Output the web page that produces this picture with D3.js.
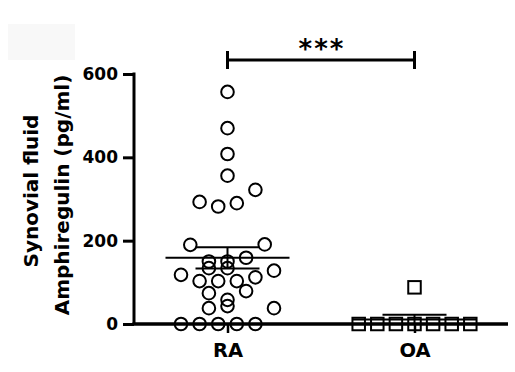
<!DOCTYPE html>
<html>
<head>
<meta charset="utf-8">
<script src="https://cdn.jsdelivr.net/npm/d3@7"></script>
<style>
  html, body { margin: 0; padding: 0; background: #fff; }
  svg text { font-family: "DejaVu Sans", sans-serif; font-weight: bold; }
</style>
</head>
<body>
<svg id="chart" width="515" height="372"></svg>
<script>
// Groups shown on the x axis
const groups = ["RA", "OA"];

// Synovial fluid amphiregulin, pg/ml, one value per patient
const raValues = [557, 470, 408, 356, 322, 293, 282, 290, 190, 191, 159, 150, 150, 134, 134,
                  118, 103, 103, 103, 112, 128, 74, 79, 58, 43, 38, 38, 0, 0, 0, 0, 0];
// Horizontal spread slot of each RA point (scatter column, in half-steps)
const raSlots  = [0, 0, 0, 0, 3, -3, -1, 1, -4, 4, 2, -2, 0, -2, 0,
                  -5, -3, -1, 1, 3, 5, -2, 2, 0, 0, -2, 5, -5, -3, -1, 1, 3];

const oaValues = [0, 0, 0, 88, 0, 0, 0, 0];
const oaSlots  = [-6, -4, -2, 0, 0, 2, 4, 6];

const yTicks = [0, 200, 400, 600];
const yTitle = ["Synovial fluid", "Amphiregulin (pg/ml)"];
const sigLabel = "***";

const FONT = '"DejaVu Sans", sans-serif';
const svg = d3.select("#chart");

// faint backdrop patch in the upper-left corner
svg.append("rect").attr("x", 8).attr("y", 24).attr("width", 67).attr("height", 36)
  .attr("fill", "#f8f8f8");

const x = d3.scalePoint().domain(groups).range([134, 508]).padding(0.5);
const y = d3.scaleLinear().domain([0, 600]).range([324, 74]);
const spread = d3.scaleLinear().domain([-1, 1]).range([-9.3, 9.3]);

// Y axis
const yAxis = svg.append("g").attr("transform", `translate(134,0)`)
  .call(d3.axisLeft(y).tickValues(yTicks).tickSize(11).tickSizeOuter(0).tickPadding(5));
yAxis.attr("font-family", FONT).attr("font-size", 17);
yAxis.select(".domain").attr("stroke", "#000").attr("stroke-width", 3)
  .attr("d", `M0,${y(0)}V${y(600) - 1.5}`);
yAxis.selectAll(".tick line").attr("stroke", "#000").attr("stroke-width", 3);
yAxis.selectAll(".tick text").attr("fill", "#000");

// X axis
const xAxis = svg.append("g").attr("transform", `translate(0,${y(0)})`)
  .call(d3.axisBottom(x).tickSize(9).tickSizeOuter(0).tickPadding(10));
xAxis.attr("font-family", FONT).attr("font-size", 19.5);
xAxis.select(".domain").attr("stroke", "#000").attr("stroke-width", 3.5)
  .attr("d", `M132.5,0H508`);
xAxis.selectAll(".tick line").attr("stroke", "#000").attr("stroke-width", 2.5);
xAxis.selectAll(".tick text").attr("fill", "#000");

// Y axis title, two lines
svg.append("g").selectAll("text").data(yTitle).join("text")
  .attr("transform", (d, i) => `translate(${[37.5, 68.5][i]},${[191, 195][i]}) rotate(-90)`)
  .attr("text-anchor", "middle")
  .attr("font-size", 20)
  .attr("fill", "#000")
  .text(d => d);

// RA points: open circles
svg.append("g").selectAll("circle").data(raValues).join("circle")
  .attr("cx", (d, i) => x("RA") + spread(raSlots[i]))
  .attr("cy", d => y(d))
  .attr("r", 6.3)
  .attr("fill", "none")
  .attr("stroke", "#000")
  .attr("stroke-width", 2);

// OA points: open squares
const side = 12.5;
svg.append("g").selectAll("rect").data(oaValues).join("rect")
  .attr("x", (d, i) => x("OA") + spread(oaSlots[i]) - side / 2)
  .attr("y", d => y(d) - side / 2)
  .attr("width", side).attr("height", side)
  .attr("fill", "none")
  .attr("stroke", "#000")
  .attr("stroke-width", 2);

// Mean and standard error bars
function summary(vals) {
  const m = d3.mean(vals);
  const sem = d3.deviation(vals) / Math.sqrt(vals.length);
  return { m, sem };
}
const stats = [["RA", summary(raValues)], ["OA", summary(oaValues)]];
const eb = svg.append("g").attr("stroke", "#000").attr("stroke-width", 2);
stats.forEach(([g, s]) => {
  const cx = x(g);
  const lo = Math.max(0, s.m - s.sem), hi = s.m + s.sem;
  eb.append("line").attr("x1", cx - 62).attr("x2", cx + 62).attr("y1", y(s.m)).attr("y2", y(s.m));
  eb.append("line").attr("x1", cx - 32).attr("x2", cx + 32).attr("y1", y(hi)).attr("y2", y(hi));
  eb.append("line").attr("x1", cx - 32).attr("x2", cx + 32).attr("y1", y(lo)).attr("y2", y(lo));
  eb.append("line").attr("x1", cx).attr("x2", cx).attr("y1", y(hi)).attr("y2", y(lo));
});

// Significance bracket
const bracket = svg.append("g").attr("stroke", "#000").attr("stroke-width", 3);
const by = 60;
bracket.append("line").attr("x1", x("RA")).attr("x2", x("OA")).attr("y1", by).attr("y2", by);
bracket.append("line").attr("x1", x("RA")).attr("x2", x("RA")).attr("y1", by - 9).attr("y2", by + 9);
bracket.append("line").attr("x1", x("OA")).attr("x2", x("OA")).attr("y1", by - 9).attr("y2", by + 9);
svg.append("text")
  .attr("x", (x("RA") + x("OA")) / 2 + 1)
  .attr("y", 58)
  .attr("text-anchor", "middle")
  .attr("font-size", 26)
  .style("letter-spacing", "2px")
  .attr("fill", "#000")
  .text(sigLabel);
</script>
</body>
</html>
